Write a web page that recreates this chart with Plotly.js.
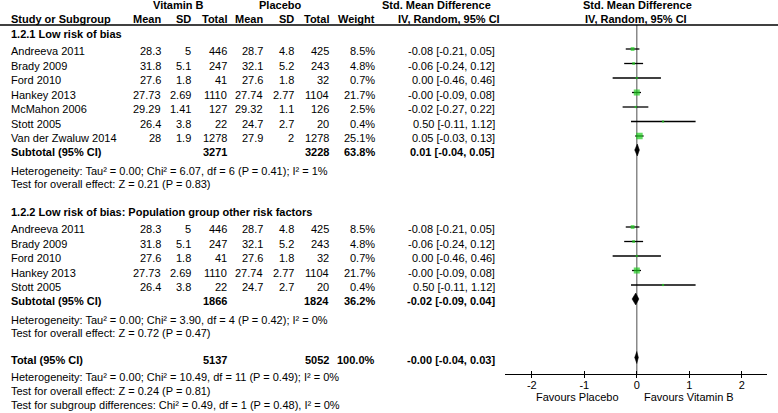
<!DOCTYPE html>
<html><head><meta charset="utf-8">
<script src="https://cdn.plot.ly/plotly-3.0.1.min.js"></script>
<style>html,body{margin:0;padding:0;background:#fff}</style>
</head><body><div id="chart" style="width:778px;height:413px"></div>
<script>
// ---------- DATA ----------
const group1Title = '1.2.1 Low risk of bias';
const group1Studies = ['Andreeva 2011','Brady 2009','Ford 2010','Hankey 2013','McMahon 2006','Stott 2005','Van der Zwaluw 2014'];
const group1VitMean = ['28.3','31.8','27.6','27.73','29.29','26.4','28'];
const group1VitSD   = ['5','5.1','1.8','2.69','1.41','3.8','1.9'];
const group1VitN    = [446,247,41,1110,127,22,1278];
const group1PlaMean = ['28.7','32.1','27.6','27.74','29.32','24.7','27.9'];
const group1PlaSD   = ['4.8','5.2','1.8','2.77','1.1','2.7','2'];
const group1PlaN    = [425,243,32,1104,126,20,1278];
const group1Weight  = [8.5,4.8,0.7,21.7,2.5,0.4,25.1];
const group1SMD     = [-0.08,-0.06,0.00,-0,-0.02,0.50,0.05];
const group1Lo      = [-0.21,-0.24,-0.46,-0.09,-0.27,-0.11,-0.03];
const group1Hi      = [0.05,0.12,0.46,0.08,0.22,1.12,0.13];
const group1Subtotal = {vitN:3271, plaN:3228, weight:63.8, smd:0.01, lo:-0.04, hi:0.05};
const group1Het  = 'Heterogeneity: Tau² = 0.00; Chi² = 6.07, df = 6 (P = 0.41); I² = 1%';
const group1Test = 'Test for overall effect: Z = 0.21 (P = 0.83)';

const group2Title = '1.2.2 Low risk of bias: Population group other risk factors';
const group2Studies = ['Andreeva 2011','Brady 2009','Ford 2010','Hankey 2013','Stott 2005'];
const group2VitMean = ['28.3','31.8','27.6','27.73','26.4'];
const group2VitSD   = ['5','5.1','1.8','2.69','3.8'];
const group2VitN    = [446,247,41,1110,22];
const group2PlaMean = ['28.7','32.1','27.6','27.74','24.7'];
const group2PlaSD   = ['4.8','5.2','1.8','2.77','2.7'];
const group2PlaN    = [425,243,32,1104,20];
const group2Weight  = [8.5,4.8,0.7,21.7,0.4];
const group2SMD     = [-0.08,-0.06,0.00,-0,0.50];
const group2Lo      = [-0.21,-0.24,-0.46,-0.09,-0.11];
const group2Hi      = [0.05,0.12,0.46,0.08,1.12];
const group2Subtotal = {vitN:1866, plaN:1824, weight:36.2, smd:-0.02, lo:-0.09, hi:0.04};
const group2Het  = 'Heterogeneity: Tau² = 0.00; Chi² = 3.90, df = 4 (P = 0.42); I² = 0%';
const group2Test = 'Test for overall effect: Z = 0.72 (P = 0.47)';

const totalRow = {vitN:5137, plaN:5052, weight:100.0, smd:-0, lo:-0.04, hi:0.03};
const totalHet  = 'Heterogeneity: Tau² = 0.00; Chi² = 10.49, df = 11 (P = 0.49); I² = 0%';
const totalTest = 'Test for overall effect: Z = 0.24 (P = 0.81)';
const subgroupTest = 'Test for subgroup differences: Chi² = 0.49, df = 1 (P = 0.48), I² = 0%';

const tickValues = [-2,-1,0,1,2];
const tickLabels = ['-2','-1','0','1','2'];
const favoursLeft = 'Favours Placebo';
const favoursRight = 'Favours Vitamin B';

// ---------- LAYOUT CONSTANTS (pixels) ----------
const W = 778, H = 413;
const FONT = 'Liberation Sans, Arial, sans-serif';
const FS = 11;
const col = {name:9, vm:163, vsd:193, vn:229, pm:265, psd:296, pn:331, w:377, ci:497};
const axisY = 374;
const STEP = 14.5;
const green = '#1fcc1f';

function fmt2(v){ return (Object.is(v,-0) || v < 0 ? '-' : '') + Math.abs(v).toFixed(2); }
function ciText(e,l,h){ return fmt2(e) + ' [' + fmt2(l) + ', ' + fmt2(h) + ']'; }

const ann = [];
function txt(x, y, text, anchor, bold){
  ann.push({xref:'paper', yref:'y', x:x/W, y:y, text: bold ? '<b>'+text+'</b>' : text,
    xanchor:anchor, yanchor:'middle', showarrow:false,
    font:{family:FONT, size:FS, color:'#000'}});
}

// headers
txt(178, 5, 'Vitamin B', 'center', true);
txt(280, 5, 'Placebo', 'center', true);
txt(436, 5, 'Std. Mean Difference', 'center', true);
txt(637, 5, 'Std. Mean Difference', 'center', true);
txt(col.name, 19, 'Study or Subgroup', 'left', true);
txt(col.vm, 19, 'Mean', 'right', true);
txt(col.vsd, 19, 'SD', 'right', true);
txt(col.vn, 19, 'Total', 'right', true);
txt(col.pm, 19, 'Mean', 'right', true);
txt(col.psd, 19, 'SD', 'right', true);
txt(col.pn, 19, 'Total', 'right', true);
txt(col.w, 19, 'Weight', 'right', true);
txt(449, 19, 'IV, Random, 95% CI', 'center', true);
txt(636, 19, 'IV, Random, 95% CI', 'center', true);

const ciX = [], ciY = [], ptX = [], ptY = [], ptS = [];
const diamonds = [];
const MARK_DY = -2;

function group(y0, title, studies, vm, vsd, vn, pm, psd, pn, wt, smd, lo, hi, sub, het, test){
  txt(col.name, y0, title, 'left', true);
  let y = y0 + 17;
  studies.forEach((s,i)=>{
    txt(col.name, y, s, 'left');
    txt(col.vm, y, vm[i], 'right');
    txt(col.vsd, y, vsd[i], 'right');
    txt(col.vn, y, String(vn[i]), 'right');
    txt(col.pm, y, pm[i], 'right');
    txt(col.psd, y, psd[i], 'right');
    txt(col.pn, y, String(pn[i]), 'right');
    txt(col.w, y, wt[i].toFixed(1)+'%', 'right');
    txt(col.ci, y, ciText(smd[i], lo[i], hi[i]), 'right');
    ciX.push(lo[i], hi[i], null); ciY.push(y+MARK_DY, y+MARK_DY, null);
    ptX.push(smd[i]); ptY.push(y+MARK_DY); ptS.push(Math.max(2.2, 1.3*Math.sqrt(wt[i])));
    y += STEP;
  });
  y -= 0.5;
  summary(y, 'Subtotal (95% CI)', sub);
  y += 18.5; txt(col.name, y, het, 'left');
  y += 13.5; txt(col.name, y, test, 'left');
  return y;
}
function summary(y, label, s){
  txt(col.name, y, label, 'left', true);
  txt(col.vn, y, String(s.vitN), 'right', true);
  txt(col.pn, y, String(s.plaN), 'right', true);
  txt(col.w, y, s.weight.toFixed(1)+'%', 'right', true);
  txt(col.ci, y, ciText(s.smd, s.lo, s.hi), 'right', true);
  diamonds.push({y:y+MARK_DY, e:s.smd, l:s.lo, h:s.hi});
}

let yy = group(34, group1Title, group1Studies, group1VitMean, group1VitSD, group1VitN, group1PlaMean, group1PlaSD, group1PlaN, group1Weight, group1SMD, group1Lo, group1Hi, group1Subtotal, group1Het, group1Test);
yy = group(yy + 28, group2Title, group2Studies, group2VitMean, group2VitSD, group2VitN, group2PlaMean, group2PlaSD, group2PlaN, group2Weight, group2SMD, group2Lo, group2Hi, group2Subtotal, group2Het, group2Test);
yy += 26.5; summary(yy, 'Total (95% CI)', totalRow);
yy += 17; txt(col.name, yy, totalHet, 'left');
yy += 14; txt(col.name, yy, totalTest, 'left');
yy += 14; txt(col.name, yy, subgroupTest, 'left');

// favours labels
ann.push({xref:'x', yref:'y', x:0, y:397, xshift:-16, text:favoursLeft, xanchor:'right', yanchor:'middle', showarrow:false, font:{family:FONT,size:FS,color:'#000'}});
ann.push({xref:'x', yref:'y', x:0, y:397, xshift:5, text:favoursRight, xanchor:'left', yanchor:'middle', showarrow:false, font:{family:FONT,size:FS,color:'#000'}});

const traces = [];
traces.push({type:'scatter', mode:'lines', x:ciX, y:ciY, line:{color:'#000', width:1.3}, hoverinfo:'skip', showlegend:false});
traces.push({type:'scatter', mode:'markers', x:ptX, y:ptY, marker:{symbol:'square', size:ptS, color:green, line:{width:0}}, hoverinfo:'skip', showlegend:false});
diamonds.forEach(d=>{
  traces.push({type:'scatter', mode:'lines', x:[d.l, d.e, d.h, d.e, d.l], y:[d.y, d.y-6, d.y, d.y+6, d.y],
    fill:'toself', fillcolor:'#000', line:{color:'#000', width:0.5}, hoverinfo:'skip', showlegend:false});
});
// overlay axis for the lower tick halves
traces.push({type:'scatter', mode:'markers', x:[0], y:[axisY], xaxis:'x2', yaxis:'y', marker:{opacity:0}, hoverinfo:'skip', showlegend:false});

const xDomain = [505/W, 767/W];
const xRange = [-2.51, 2.48];
const layout = {
  width:W, height:H, margin:{l:0,r:0,t:0,b:0}, paper_bgcolor:'#fff', plot_bgcolor:'rgba(0,0,0,0)',
  showlegend:false,
  font:{family:FONT, size:FS, color:'#000'},
  xaxis:{domain:xDomain, range:xRange, anchor:'free', position:(H-axisY)/H, showgrid:false, zeroline:false,
    showline:true, linecolor:'#000', linewidth:1.3, ticks:'inside', ticklen:3, tickwidth:1.3, tickcolor:'#000',
    tickvals:tickValues, ticktext:tickLabels, tickfont:{family:FONT,size:FS,color:'#000'}, fixedrange:true},
  xaxis2:{domain:xDomain, range:xRange, overlaying:'x', anchor:'free', position:(H-axisY)/H, showgrid:false, zeroline:false,
    showline:false, ticks:'outside', ticklen:3, tickwidth:1.3, tickcolor:'#000', tickvals:tickValues, showticklabels:false},
  yaxis:{domain:[0,1], range:[H,0], visible:false, fixedrange:true},
  shapes:[
    {type:'line', xref:'paper', yref:'y', x0:0, x1:1, y0:25, y1:25, line:{color:'#000', width:1.5}},
    {type:'line', xref:'x', yref:'y', x0:0, x1:0, y0:25, y1:axisY, line:{color:'#777', width:1.3}, layer:'below'}
  ],
  annotations:ann
};
Plotly.newPlot('chart', traces, layout, {staticPlot:true, displayModeBar:false});
</script></body></html>
